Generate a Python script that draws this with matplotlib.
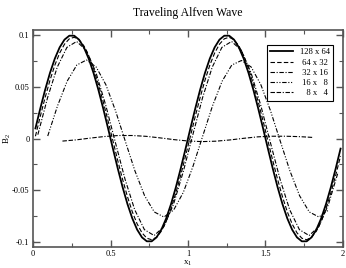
import numpy as np
import matplotlib
matplotlib.use("Agg")
import matplotlib.pyplot as plt

plt.rcParams['font.family'] = ['Liberation Serif', 'DejaVu Serif']
plt.rcParams['mathtext.fontset'] = 'custom'
plt.rcParams['mathtext.rm'] = 'Liberation Serif'
plt.rcParams['mathtext.it'] = 'Liberation Serif'
plt.rcParams['mathtext.default'] = 'regular'

title = "Traveling Alfven Wave"
labels = ["128 x 64", " 64 x 32", " 32 x 16", " 16 x   8", "   8 x   4"]

# 128 x 64 (sampled)
x_128 = (np.arange(64) + 0.5) / 32
y_128 = [0.0098, 0.0290, 0.0471, 0.0634, 0.0773, 0.0882, 0.0957, 0.0995,
         0.0995, 0.0957, 0.0882, 0.0773, 0.0634, 0.0471, 0.0290, 0.0098,
         -0.0098, -0.0290, -0.0471, -0.0634, -0.0773, -0.0882, -0.0957, -0.0995,
         -0.0995, -0.0957, -0.0882, -0.0773, -0.0634, -0.0471, -0.0290, -0.0098,
         0.0098, 0.0290, 0.0471, 0.0634, 0.0773, 0.0882, 0.0957, 0.0995,
         0.0995, 0.0957, 0.0882, 0.0773, 0.0634, 0.0471, 0.0290, 0.0098,
         -0.0098, -0.0290, -0.0471, -0.0634, -0.0773, -0.0882, -0.0957, -0.0995,
         -0.0995, -0.0957, -0.0882, -0.0773, -0.0634, -0.0471, -0.0290, -0.0098]

# 64 x 32
x_64 = (np.arange(64) + 0.5) / 32
y_64 = [0.0022, 0.0214, 0.0396, 0.0563, 0.0709, 0.0827, 0.0913, 0.0965,
        0.0980, 0.0956, 0.0897, 0.0802, 0.0677, 0.0525, 0.0355, 0.0169,
        -0.0022, -0.0214, -0.0396, -0.0563, -0.0709, -0.0827, -0.0913, -0.0965,
        -0.0980, -0.0956, -0.0897, -0.0802, -0.0677, -0.0525, -0.0355, -0.0169,
        0.0022, 0.0214, 0.0396, 0.0563, 0.0709, 0.0827, 0.0913, 0.0965,
        0.0980, 0.0956, 0.0897, 0.0802, 0.0677, 0.0525, 0.0355, 0.0169,
        -0.0022, -0.0214, -0.0396, -0.0563, -0.0709, -0.0827, -0.0913, -0.0965,
        -0.0980, -0.0956, -0.0897, -0.0802, -0.0677, -0.0525, -0.0355, -0.0169]

# 32 x 16
x_32 = (np.arange(32) + 0.5) / 16
y_32 = [0.0037, 0.0394, 0.0690, 0.0882, 0.0939, 0.0854, 0.0638, 0.0325,
        -0.0037, -0.0394, -0.0690, -0.0882, -0.0939, -0.0854, -0.0638, -0.0325,
        0.0037, 0.0394, 0.0690, 0.0882, 0.0939, 0.0854, 0.0638, 0.0325,
        -0.0037, -0.0394, -0.0690, -0.0882, -0.0939, -0.0854, -0.0638, -0.0325]

# 16 x 8
x_16 = 0.095 + np.arange(30) * 0.0625
y_16 = [0.0024, 0.0313, 0.0554, 0.0711, 0.0760, 0.0692, 0.0521, 0.0268,
        -0.0024, -0.0313, -0.0554, -0.0711, -0.0760, -0.0692, -0.0521, -0.0268,
        0.0024, 0.0313, 0.0554, 0.0711, 0.0755, 0.0692, 0.0521, 0.0268,
        -0.0024, -0.0313, -0.0554, -0.0711, -0.0760, -0.0692]

# 8 x 4
x_8 = 0.19 + np.arange(19) * 0.09
y_8 = [-0.0025, -0.0013, 0.0004, 0.0019, 0.0029, 0.0029, 0.0021, 0.0006,
       -0.0011, -0.0024, -0.0030, -0.0026, -0.0014, 0.0002, 0.0016, 0.0022,
       0.0022, 0.0018, 0.0010]

xticks = [0, 0.5, 1, 1.5, 2]
xtick_labels = ["0", "0.5", "1", "1.5", "2"]
yticks = [-0.1, -0.05, 0, 0.05, 0.1]
ytick_labels = ["-0.1", "-0.05", "0", "0.05", "0.1"]

fig = plt.figure(figsize=(3.46, 2.68), dpi=100)
ax = fig.add_axes([0.0954, 0.0784, 0.8959, 0.8096])

ax.plot(x_128, y_128, color='black', lw=1.3, ls='-', label=labels[0])
ax.plot(x_64, y_64, color='black', lw=0.8, ls=(0, (4, 2)), label=labels[1])
ax.plot(x_32, y_32, color='black', lw=0.8, ls=(0, (4, 1.5, 1, 1.5)), label=labels[2])
ax.plot(x_16, y_16, color='black', lw=0.8, ls=(0, (4, 1.5, 1, 1.5, 1, 1.5)), label=labels[3])
ax.plot(x_8, y_8, color='black', lw=0.8, ls=(0, (4, 1.5, 4, 1.5, 1, 1.5)), label=labels[4])

ax.set_xlim(0, 2)
ax.set_ylim(-0.105, 0.105)
ax.set_xticks(xticks)
ax.set_xticklabels(xtick_labels)
ax.set_yticks(yticks)
ax.set_yticklabels(ytick_labels)
ax.set_xticks([0.25, 0.75, 1.25, 1.75], minor=True)
ax.set_yticks([-0.075, -0.025, 0.025, 0.075], minor=True)
ax.tick_params(which='both', direction='in', top=True, right=True, labelsize=6,
               color='#555555', pad=2.5)
ax.tick_params(which='major', length=5, width=1)
ax.tick_params(which='minor', length=3, width=0.8)
for s in ax.spines.values():
    s.set_color('#555555')
    s.set_linewidth(1.2)

ax.set_title(title, fontsize=8.5, pad=10)
ax.set_xlabel("x$_1$", fontsize=6.5, labelpad=0)
ax.set_ylabel("B$_2$", fontsize=6.5)
ax.yaxis.set_label_coords(-0.066, 0.5)

leg = ax.legend(loc='upper right', bbox_to_anchor=(0.968, 0.931), fontsize=6.2,
                frameon=True, fancybox=False, edgecolor='black', framealpha=1,
                handlelength=2.6, handletextpad=0.8, borderpad=0.4, labelspacing=0.25,
                borderaxespad=0)
leg.get_frame().set_linewidth(0.8)
for t in leg.get_texts():
    t.set_ha('right')

fig.savefig("out.png", dpi=100)
